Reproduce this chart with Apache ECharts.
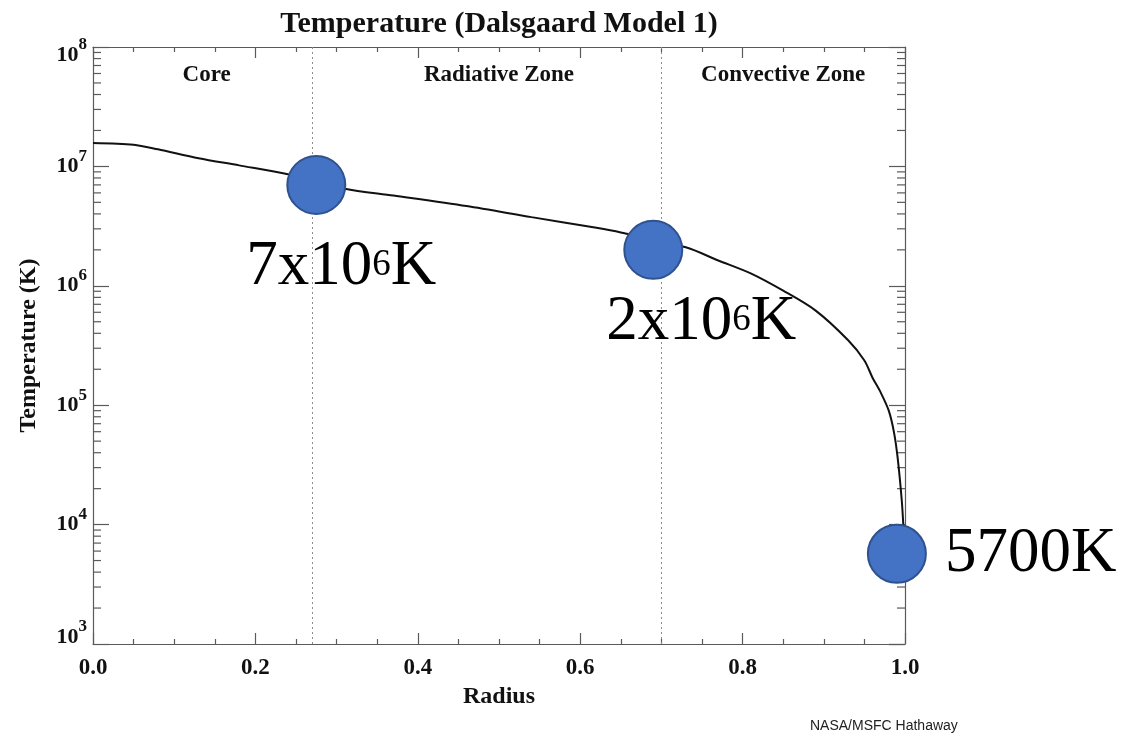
<!DOCTYPE html>
<html>
<head>
<meta charset="utf-8">
<script src="https://cdn.jsdelivr.net/npm/echarts@6/dist/echarts.min.js"></script>
<style>
  html, body { margin: 0; padding: 0; background: #ffffff; }
  #chart { width: 1126px; height: 734px; }
</style>
</head>
<body>
<div id="chart"></div>
<script>
// Solar interior temperature profile (Dalsgaard Model 1), radius in solar radii
const radius = [0, 0.05, 0.08, 0.13, 0.18, 0.24, 0.31, 0.37, 0.46, 0.54, 0.62, 0.65,
                0.73, 0.77, 0.81, 0.85, 0.89, 0.93, 0.95, 0.96, 0.97, 0.98, 0.9865, 0.991, 0.996, 0.998, 1.0];
const temperature = [1.57e7, 1.52e7, 1.39e7, 1.17e7, 1.02e7, 8.6e6, 6.5e6, 5.7e6, 4.65e6, 3.76e6, 3.06e6, 2.8e6,
                     2.1e6, 1.63e6, 1.27e6, 9.1e5, 6.2e5, 3.5e5, 2.37e5, 1.7e5, 1.28e5, 9.0e4, 5.9e4, 3.6e4, 1.6e4, 9.8e3, 5700];

// Highlighted temperatures
const markerRadius = [0.275, 0.69, 0.99];
const markerTemp = [7e6, 2e6, 5700];

// Zone boundaries and zone captions
const zoneBounds = [0.27, 0.70];
const zoneNames = ['Core', 'Radiative Zone', 'Convective Zone'];
const zoneCaptionRadius = [0.14, 0.5, 0.85];
const zoneCaptionTemp = 5.85e7;

// Axis ticks
const yTickExponents = [3, 4, 5, 6, 7, 8];
const xMin = 0, xMax = 1, xInterval = 0.2;

const SERIF = "'Liberation Serif', 'Times New Roman', serif";
const AXIS_COLOR = '#5a5a5a';

const curveData = radius.map((r, i) => [r, temperature[i]]);

// minor ticks of the log axis: 2..9 within each decade
const minorTickValues = [];
for (let k = 0; k < yTickExponents.length - 1; k++) {
  for (let m = 2; m <= 9; m++) minorTickValues.push([0, m * Math.pow(10, yTickExponents[k])]);
}

function tempLabel(T) {
  const e = Math.floor(Math.log10(T) + 1e-9);
  if (T >= 1e6) {
    const m = Math.round(T / Math.pow(10, e));
    return '{m|' + m + 'x10}{s|' + e + '}{m|K}';
  }
  return '{m|' + T + 'K}';
}

const markerLabelOffsets = [[-70, 83], [-47, 73], [48, 1]];
const markerData = markerRadius.map((r, i) => ({
  value: [r, markerTemp[i]],
  label: { offset: markerLabelOffsets[i] }
}));

const zoneCaptionData = zoneNames.map((n, i) => ({ name: n, value: [zoneCaptionRadius[i], zoneCaptionTemp] }));

const yLabelRich = {
  nb: { fontFamily: SERIF, fontWeight: 'bold', fontSize: 22, color: '#111' },
  ns: { fontFamily: SERIF, fontWeight: 'bold', fontSize: 17, color: '#111', padding: [0, 0, 20, 0] },
  tb: { fontFamily: SERIF, fontWeight: 'bold', fontSize: 22, color: '#111', padding: [16, 0, 0, 0] },
  ts: { fontFamily: SERIF, fontWeight: 'bold', fontSize: 17, color: '#111', padding: [0, 0, 4, 0] },
  bb: { fontFamily: SERIF, fontWeight: 'bold', fontSize: 22, color: '#111', padding: [0, 0, 14, 0] },
  bs: { fontFamily: SERIF, fontWeight: 'bold', fontSize: 17, color: '#111', padding: [0, 0, 34, 0] }
};
const yMaxExp = yTickExponents[yTickExponents.length - 1];
const yMinExp = yTickExponents[0];

const chart = echarts.init(document.getElementById('chart'), null, { renderer: 'canvas' });

const option = {
  backgroundColor: '#ffffff',
  animation: false,
  title: {
    text: 'Temperature (Dalsgaard Model 1)',
    left: 499,
    top: 9,
    padding: 0,
    textAlign: 'center',
    textStyle: { fontFamily: SERIF, fontWeight: 'bold', fontSize: 30, color: '#111' }
  },
  grid: { left: 93, top: 47, right: 221, bottom: 90, containLabel: false, outerBoundsMode: 'none' },
  xAxis: [{
    type: 'value', min: xMin, max: xMax, interval: xInterval,
    name: 'Radius', nameLocation: 'middle', nameGap: 37,
    nameTextStyle: { fontFamily: SERIF, fontWeight: 'bold', fontSize: 24, color: '#111' },
    axisLine: { show: true, onZero: false, lineStyle: { color: AXIS_COLOR, width: 1.2 } },
    axisTick: { show: true, inside: true, length: 11, lineStyle: { color: AXIS_COLOR, width: 1.2 } },
    minorTick: { show: true, splitNumber: 4, length: 5, lineStyle: { color: AXIS_COLOR, width: 1.2 } },
    splitLine: { show: false },
    axisLabel: { margin: 13, fontFamily: SERIF, fontWeight: 'bold', fontSize: 23, color: '#111',
                 formatter: v => v.toFixed(1) }
  }, {
    type: 'value', min: xMin, max: xMax, interval: xInterval, position: 'top',
    axisLine: { show: true, onZero: false, lineStyle: { color: AXIS_COLOR, width: 1.2 } },
    axisTick: { show: true, inside: true, length: 11, lineStyle: { color: AXIS_COLOR, width: 1.2 } },
    minorTick: { show: true, splitNumber: 4, length: 5, lineStyle: { color: AXIS_COLOR, width: 1.2 } },
    splitLine: { show: false },
    axisLabel: { show: false }
  }],
  yAxis: [{
    type: 'log', logBase: 10, min: Math.pow(10, yMinExp), max: Math.pow(10, yMaxExp),
    name: 'Temperature (K)', nameLocation: 'middle', nameGap: 52,
    nameTextStyle: { fontFamily: SERIF, fontWeight: 'bold', fontSize: 24, color: '#111' },
    axisLine: { show: true, onZero: false, lineStyle: { color: AXIS_COLOR, width: 1.2 } },
    axisTick: { show: true, inside: true, length: 16, lineStyle: { color: AXIS_COLOR, width: 1.2 } },
    minorTick: { show: false },
    splitLine: { show: false },
    axisLabel: {
      margin: 6,
      formatter: v => {
        const e = Math.round(Math.log10(v));
        const k = e === yMaxExp ? 't' : (e === yMinExp ? 'b' : 'n');
        return '{' + k + 'b|10}{' + k + 's|' + e + '}';
      },
      rich: yLabelRich
    }
  }, {
    type: 'log', logBase: 10, min: Math.pow(10, yMinExp), max: Math.pow(10, yMaxExp), position: 'right',
    axisLine: { show: true, onZero: false, lineStyle: { color: AXIS_COLOR, width: 1.2 } },
    axisTick: { show: true, inside: true, length: 16, lineStyle: { color: AXIS_COLOR, width: 1.2 } },
    minorTick: { show: false },
    splitLine: { show: false },
    axisLabel: { show: false }
  }],
  series: [
    {
      // minor ticks of the logarithmic temperature axis, on both frame sides
      type: 'custom',
      xAxisIndex: 0, yAxisIndex: 0,
      silent: true, clip: false,
      encode: { x: 0, y: 1 },
      data: minorTickValues,
      renderItem: (params, api) => {
        const v = api.value(1);
        const pL = api.coord([xMin, v]);
        const pR = api.coord([xMax, v]);
        const st = { stroke: AXIS_COLOR, lineWidth: 1.2 };
        return {
          type: 'group',
          children: [
            { type: 'line', shape: { x1: pL[0], y1: pL[1], x2: pL[0] + 8, y2: pL[1] }, style: st },
            { type: 'line', shape: { x1: pR[0], y1: pR[1], x2: pR[0] - 8, y2: pR[1] }, style: st }
          ]
        };
      }
    },
    {
      type: 'line',
      data: curveData,
      symbol: 'none',
      smooth: 0.3,
      lineStyle: { color: '#111', width: 2 },
      silent: true,
      markLine: {
        silent: true,
        symbol: ['none', 'none'],
        label: { show: false },
        lineStyle: { type: [2, 3], color: '#8c8c8c', width: 1 },
        data: zoneBounds.map(b => ({ xAxis: b }))
      },
      z: 3
    },
    {
      type: 'scatter',
      data: zoneCaptionData,
      symbolSize: 0,
      silent: true,
      itemStyle: { opacity: 1 },
      label: {
        show: true, position: 'inside', formatter: p => p.name,
        fontFamily: SERIF, fontWeight: 'bold', fontSize: 23, color: '#111'
      }
    },
    {
      type: 'scatter',
      data: markerData,
      symbol: 'circle',
      symbolSize: 58,
      silent: true,
      z: 5,
      itemStyle: { color: '#4472C4', borderColor: '#2F528F', borderWidth: 2, opacity: 1 },
      label: {
        show: true, position: 'inside', align: 'left', verticalAlign: 'middle',
        formatter: p => tempLabel(p.value[1]),
        rich: {
          m: { fontFamily: SERIF, fontSize: 63, color: '#000' },
          s: { fontFamily: SERIF, fontSize: 37, color: '#000', padding: [0, 0, 6, 0] }
        }
      }
    }
  ],
  graphic: [{
    type: 'text',
    left: 810, top: 719,
    style: { text: 'NASA/MSFC Hathaway', fontFamily: "'Liberation Sans', Arial, sans-serif", fontSize: 14, fill: '#222' }
  }]
};

chart.setOption(option);
</script>
</body>
</html>
